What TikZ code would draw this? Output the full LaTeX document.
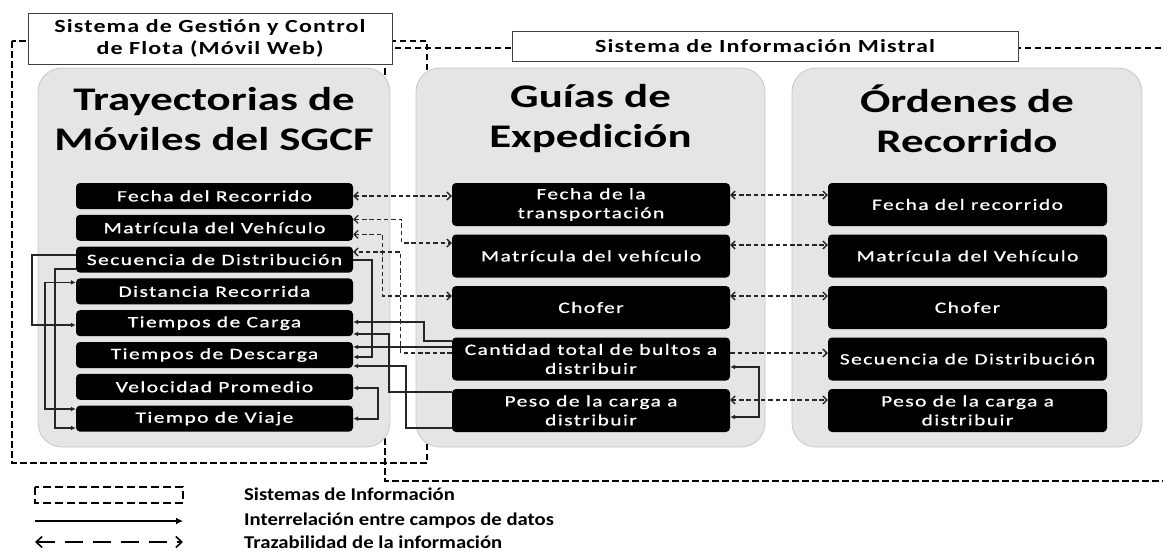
\documentclass[tikz,border=0pt]{standalone}
\usepackage{fontspec}
\setmainfont{Carlito}
\newfontfamily\titlef{Carlito}[FakeStretch=1.36]
\newfontfamily\boxf{Carlito}[FakeStretch=1.36,LetterSpace=9,FakeBold=0.8]
\newfontfamily\lblf{Carlito}[FakeStretch=1.3,LetterSpace=6]
\newfontfamily\legf{Carlito}[FakeStretch=1.15]
\usetikzlibrary{arrows.meta}
\begin{document}
\begin{tikzpicture}[x=1pt,y=-1pt,
  sysline/.style={line width=2.2pt, dash pattern=on 6.5pt off 3.5pt},
  panel/.style={draw=black!22, fill=black!10, rounded corners=24pt, line width=0.8pt},
  titlenode/.style={font=\titlef\bfseries\fontsize{33}{40}\selectfont, align=center, inner sep=0pt},
  lblbox/.style={draw=black!75, fill=white, line width=1pt, font=\lblf\bfseries\fontsize{18.5}{22}\selectfont, align=center, inner sep=0pt},
  fbox/.style={fill=black, rounded corners=4pt, text=white, font=\boxf\fontsize{15.8}{19}\selectfont, align=center, inner sep=0pt},
  lbox/.style={fbox, minimum width=277pt, minimum height=26pt},
  mbox/.style={fbox, minimum width=278pt, minimum height=43pt},
  rbox/.style={fbox, minimum width=279pt, minimum height=43pt},
  trace/.style={line width=1.3pt, black!85, dash pattern=on 4.5pt off 2.8pt},
  tone/.style={-{Straight Barb[length=4pt,width=8pt]}},
  tboth/.style={{Straight Barb[length=4pt,width=8pt]}-{Straight Barb[length=4pt,width=8pt]}},
  rel/.style={line width=1.8pt, black!85, -{Latex[length=5pt,width=5pt]}},
  relboth/.style={line width=1.8pt, black!85, {Latex[length=5pt,width=5pt]}-{Latex[length=5pt,width=5pt]}},
  legtext/.style={font=\legf\bfseries\fontsize{18}{21}\selectfont, anchor=west, inner sep=0pt}
]
\useasboundingbox (0,0) rectangle (1163,555);
\clip (0,0) rectangle (1163,555);
\fill[white] (0,0) rectangle (1163,555);

% system boundaries
\draw[sysline] (12,41) rectangle (427,463);
\draw[sysline] (385,48) rectangle (1185,481);

% system labels
\node[lblbox, minimum width=364pt, minimum height=51pt] (S1) at (210,38.5) {Sistema de Gestión y Control\\de Flota (Móvil Web)};
\node[lblbox, minimum width=506pt, minimum height=30pt] (S2) at (765,46) {Sistema de Información Mistral};

% panels
\node[panel, minimum width=352pt, minimum height=379pt] (P1) at (214,257.5) {};
\node[panel, minimum width=349pt, minimum height=379pt] (P2) at (590.5,257.5) {};
\node[panel, minimum width=350pt, minimum height=379pt] (P3) at (967,257.5) {};

\node[titlenode] (T1) at (214,119) {Trayectorias de\\Móviles del SGCF};
\node[titlenode] (T2) at (590.5,119) {Guías de\\Expedición};
\node[titlenode] (T3) at (967,119) {Órdenes de\\Recorrido};

% left column
\node[lbox] (L1) at (214.5,196) {Fecha del Recorrido};
\node[lbox] (L2) at (214.5,227.8) {Matrícula del Vehículo};
\node[lbox] (L3) at (214.5,259.6) {Secuencia de Distribución};
\node[lbox] (L4) at (214.5,291.4) {Distancia Recorrida};
\node[lbox] (L5) at (214.5,323.2) {Tiempos de Carga};
\node[lbox] (L6) at (214.5,355) {Tiempos de Descarga};
\node[lbox] (L7) at (214.5,386.8) {Velocidad Promedio};
\node[lbox] (L8) at (214.5,418.6) {Tiempo de Viaje};

% middle column
\node[mbox] (M1) at (591,204.5) {Fecha de la\\transportación};
\node[mbox] (M2) at (591,256) {Matrícula del vehículo};
\node[mbox] (M3) at (591,307.5) {Chofer};
\node[mbox] (M4) at (591,359) {Cantidad total de bultos a\\distribuir};
\node[mbox] (M5) at (591,410.5) {Peso de la carga a\\distribuir};

% right column
\node[rbox] (R1) at (967.5,204.5) {Fecha del recorrido};
\node[rbox] (R2) at (967.5,256) {Matrícula del Vehículo};
\node[rbox] (R3) at (967.5,307.5) {Chofer};
\node[rbox] (R4) at (967.5,359) {Secuencia de Distribución};
\node[rbox] (R5) at (967.5,410.5) {Peso de la carga a\\distribuir};

% traceability (dashed)
\draw[trace, tboth] (L1.east) -- (M1.west |- L1.east);
\draw[trace, tboth] ([yshift=8.5]L2.east) -| ([xshift=-50,yshift=13]M2.west) -- ([yshift=13]M2.west);
\draw[trace, tboth] ([yshift=-6.5]L2.east) -| ([xshift=-69,yshift=11.5]M3.west) -- ([yshift=11.5]M3.west);
\draw[trace, tone] ([yshift=6]M4.west) -- ++(-51,0) |- ([yshift=7.6]L3.east);

\draw[trace, tboth] ([yshift=9.5]M1.east) -- ([yshift=9.5]R1.west);
\draw[trace, tboth] ([yshift=11]M2.east) -- ([yshift=11]R2.west);
\draw[trace, tboth] ([yshift=11.5]M3.east) -- ([yshift=11.5]R3.west);
\draw[trace, tone] ([yshift=6]M4.east) -- ([yshift=6]R4.west);
\draw[trace, tboth] ([yshift=10.5]M5.east) -- ([yshift=10.5]R5.west);

% interrelations (solid)
\draw[rel] ([yshift=4.6]L3.west) -- ++(-44,0) |- ([yshift=-1.8]L5.west);
\draw[rel] ([yshift=-9.4]L3.west) -- ++(-21,0) |- ([yshift=-9.4]L8.west);
\draw[relboth] ([yshift=9]L4.west) -- ++(-31,0) |- ([yshift=9.6]L8.west);
\draw[rel] (L3.east) -- ++(19,0) |- ([yshift=-2]L6.east);
\draw[relboth] ([yshift=-1.2]L7.east) -- ++(25,0) |- (L8.east);
\draw[rel] ([yshift=18]M4.west) -- ++(-28,0) |- ([yshift=1.2]L5.east);
\draw[rel] ([yshift=12]M4.west) -- ([yshift=8]L6.east);
\draw[rel] ([yshift=18.5]M5.west) -- ++(-63,0) |- ([yshift=-10.8]L5.east);
\draw[rel] ([yshift=-17.5]M5.west) -- ++(-46,0) |- ([yshift=-11]L6.east);
\draw[relboth] ([yshift=-8]M4.east) -- ++(29,0) |- ([yshift=-6.5]M5.east);

% legend
\draw[line width=2pt, dash pattern=on 8pt off 4pt] (35,487) rectangle (183,503);
\coordinate (A1) at (35,521);
\coordinate (A2) at (183,521);
\draw[line width=1.8pt, -{Latex[length=7pt,width=7pt]}] (A1) -- (A2);
\coordinate (B1) at (35,542);
\coordinate (B2) at (183,542);
\draw[line width=1.6pt, dash pattern=on 18pt off 10pt, {Straight Barb[length=6pt,width=11pt]}-{Straight Barb[length=6pt,width=11pt]}] (B1) -- (B2);
\node[legtext] (G1) at (244,494) {Sistemas de Información};
\node[legtext] (G2) at (244,521) {Interrelación entre campos de datos};
\node[legtext] (G3) at (244,542) {Trazabilidad de la información};
\end{tikzpicture}
\end{document}
